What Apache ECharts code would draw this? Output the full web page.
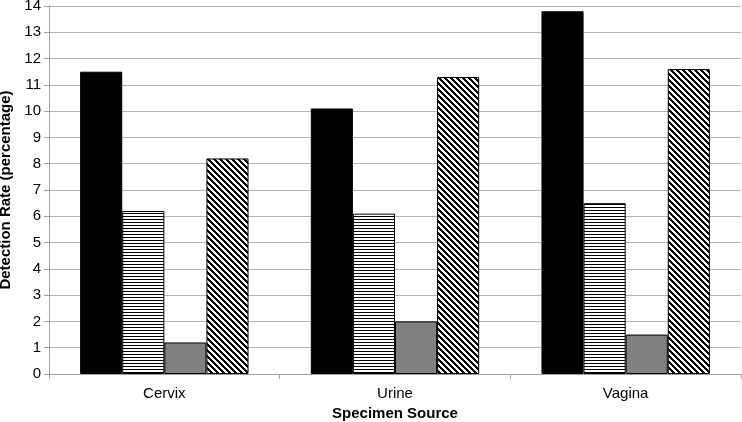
<!DOCTYPE html>
<html>
<head>
<meta charset="utf-8">
<script src="https://cdn.jsdelivr.net/npm/echarts@6/dist/echarts.min.js"></script>
<style>
  html, body { margin: 0; padding: 0; background: #fff; }
  #chart { width: 742px; height: 422px; }
</style>
</head>
<body>
<div id="chart"></div>
<script>
const categories = ['Cervix', 'Urine', 'Vagina'];
const seriesA = [11.5, 10.1, 13.8];   // solid black
const seriesB = [6.2, 6.1, 6.5];      // horizontal lines
const seriesC = [1.2, 2.0, 1.5];      // solid grey
const seriesD = [8.2, 11.3, 11.6];    // diagonal lines

const font = 'Liberation Sans, Arial, sans-serif';

function hLines() {
    const c = document.createElement('canvas');
    c.width = 3; c.height = 3;
    const ctx = c.getContext('2d');
    ctx.fillStyle = '#fff';
    ctx.fillRect(0, 0, 3, 3);
    ctx.fillStyle = '#000';
    ctx.fillRect(0, 0, 3, 1);
    return c;
}

function dLines() {
    const n = 6;
    const c = document.createElement('canvas');
    c.width = n; c.height = n;
    const ctx = c.getContext('2d');
    ctx.fillStyle = '#fff';
    ctx.fillRect(0, 0, n, n);
    ctx.fillStyle = '#000';
    for (let y = 0; y < n; y++) {
        for (let x = 0; x < n; x++) {
            if (((x - y) % n + n) % n < 3) ctx.fillRect(x, y, 1, 1);
        }
    }
    return c;
}

function bar(name, data, color) {
    return {
        name: name,
        type: 'bar',
        data: data,
        barGap: '0%',
        barCategoryGap: '27%',
        itemStyle: { color: color, borderColor: '#000', borderWidth: 1 }
    };
}

const chart = echarts.init(document.getElementById('chart'), null, { renderer: 'canvas' });
chart.setOption({
    animation: false,
    grid: { left: 49, right: 1, top: 6, bottom: 48, outerBoundsMode: 'none', containLabel: false },
    xAxis: {
        type: 'category',
        data: categories,
        name: 'Specimen Source',
        nameLocation: 'middle',
        nameGap: 31,
        nameTextStyle: { fontFamily: font, fontSize: 15, fontWeight: 'bold', color: '#000' },
        axisLine: { lineStyle: { color: '#a0a0a0' } },
        axisTick: { show: true, length: 5, lineStyle: { color: '#a0a0a0' } },
        axisLabel: { fontFamily: font, fontSize: 15, color: '#000', margin: 12 }
    },
    yAxis: {
        type: 'value',
        min: 0,
        max: 14,
        interval: 1,
        name: 'Detection Rate (percentage)',
        nameLocation: 'middle',
        nameGap: 33,
        nameTextStyle: { fontFamily: font, fontSize: 15, fontWeight: 'bold', color: '#000' },
        axisLine: { show: true, lineStyle: { color: '#a0a0a0' } },
        axisTick: { show: true, length: 5, lineStyle: { color: '#a0a0a0' } },
        axisLabel: { fontFamily: font, fontSize: 15, color: '#000', margin: 8 },
        splitLine: { lineStyle: { color: '#b4b4b4' } }
    },
    series: [
        bar('Series 1', seriesA, '#000'),
        bar('Series 2', seriesB, { image: hLines(), repeat: 'repeat' }),
        bar('Series 3', seriesC, '#808080'),
        bar('Series 4', seriesD, { image: dLines(), repeat: 'repeat' })
    ]
});
</script>
</body>
</html>
